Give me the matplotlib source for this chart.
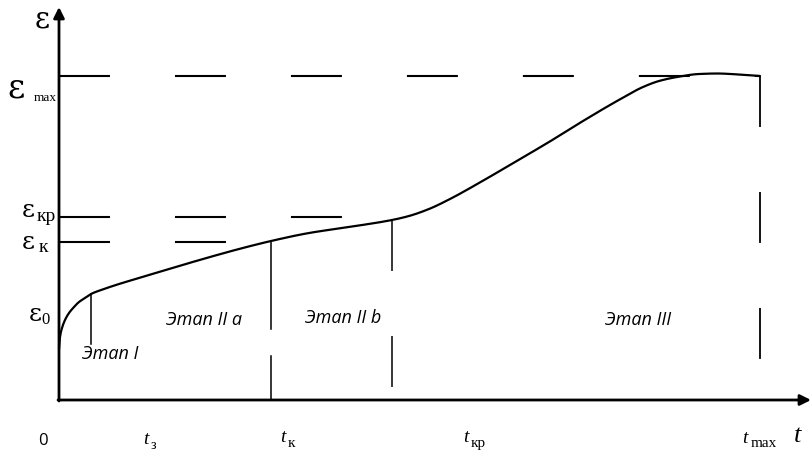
import numpy as np
import matplotlib
matplotlib.use("Agg")
import matplotlib.pyplot as plt

plt.rcParams['lines.scale_dashes'] = False

# Characteristic levels of strain and time (arbitrary units)
eps_levels = {"eps0": 106, "eps_k": 158, "eps_kr": 183, "eps_max": 324}
t_levels = {"t_z": 32, "t_k": 212, "t_kr": 333, "t_max": 701}

# Creep curve samples: time and strain
curve_t = [0, 1, 3, 6, 10, 15, 20, 26, 32, 45, 60, 80, 110, 144, 180, 212,
           250, 290, 333, 350, 370, 391, 420, 456, 490, 524, 558, 584, 600,
           618, 640, 658, 680, 701]
curve_eps = [51, 63, 72, 80, 87, 93, 98, 102, 106, 111, 116, 122, 131, 141,
             151, 159, 167, 173, 180, 184, 191, 201, 217, 238, 258, 279, 299,
             313, 319, 323, 326, 326.5, 325.5, 324]

# Stage labels
stage_labels = ["Этап I", "Этап II a", "Этап II b", "Этап III"]


def pchip(x, y, xs):
    """Shape-preserving piecewise cubic Hermite curve through (x, y)."""
    x = np.asarray(x, float)
    y = np.asarray(y, float)
    h = np.diff(x)
    d = np.diff(y) / h
    m = np.zeros_like(y)
    m[0], m[-1] = d[0], d[-1]
    for k in range(1, len(x) - 1):
        if d[k - 1] * d[k] > 0:
            w1 = 2 * h[k] + h[k - 1]
            w2 = h[k] + 2 * h[k - 1]
            m[k] = (w1 + w2) / (w1 / d[k - 1] + w2 / d[k])
    idx = np.clip(np.searchsorted(x, xs) - 1, 0, len(x) - 2)
    s = (xs - x[idx]) / h[idx]
    h00 = 2 * s**3 - 3 * s**2 + 1
    h10 = s**3 - 2 * s**2 + s
    h01 = -2 * s**3 + 3 * s**2
    h11 = s**3 - s**2
    return (h00 * y[idx] + h10 * h[idx] * m[idx]
            + h01 * y[idx + 1] + h11 * h[idx] * m[idx + 1])


fig = plt.figure(figsize=(8.12, 4.52), dpi=100)
ax = fig.add_axes([0, 0, 1, 1])
ax.set_xlim(-59, 753)
ax.set_ylim(-51, 401)
ax.axis("off")

K = "black"
dash = (36.7, 46.8)

# Axes with arrows
ax.annotate("", xy=(752, 0), xytext=(-1, 0),
            arrowprops=dict(arrowstyle="-|>", lw=2.0, color=K, mutation_scale=16,
                            shrinkA=0, shrinkB=0))
ax.annotate("", xy=(0, 393), xytext=(0, -1),
            arrowprops=dict(arrowstyle="-|>", lw=2.0, color=K, mutation_scale=16,
                            shrinkA=0, shrinkB=0))

# Creep curve
ts = np.linspace(curve_t[0], curve_t[-1], 1500)
ax.plot(ts, pchip(curve_t, curve_eps, ts), color=K, lw=1.6,
        solid_capstyle="round")

# Horizontal dashed reference levels
e_max, e_kr, e_k = eps_levels["eps_max"], eps_levels["eps_kr"], eps_levels["eps_k"]
tz, tk, tkr, tmax = t_levels["t_z"], t_levels["t_k"], t_levels["t_kr"], t_levels["t_max"]
ax.plot([0, tmax], [e_max, e_max], color=K, lw=1.5, dashes=dash)
ax.plot([0, tkr - 49], [e_kr, e_kr], color=K, lw=1.5, dashes=dash)
ax.plot([0, tk - 44], [e_k, e_k], color=K, lw=1.5, dashes=dash)

# Vertical stage boundaries
ci = lambda t: float(pchip(curve_t, curve_eps, np.array([t]))[0])
ax.plot([tz, tz], [ci(tz), 56], color=K, lw=1.1)
ax.plot([tk, tk], [ci(tk), 71], color=K, lw=1.1)
ax.plot([tk, tk], [44, 0], color=K, lw=1.1)
ax.plot([tkr, tkr], [ci(tkr), 0], color=K, lw=1.1, dashes=dash)
ax.plot([tmax, tmax], [e_max, 0], color=K, lw=1.3, dashes=dash)

# Stage labels
lab_font = dict(family="Open Sans", style="italic", fontsize=13, color=K,
                ha="center", va="center")
ax.text(51, 47, stage_labels[0], **lab_font)
ax.text(145, 81, stage_labels[1], **lab_font)
ax.text(284, 83, stage_labels[2], **lab_font)
ax.text(579, 81, stage_labels[3], **lab_font)

serif = "DejaVu Serif"
sub = "Liberation Serif"
# Strain axis labels
ax.text(-24, 373, "ε", family=serif, fontsize=21, color=K)
ax.text(-52, 304, "ε", family=serif, fontsize=24, color=K)
ax.text(-25, 300, "max", family=sub, fontsize=9.5, color=K)
ax.text(-37, 184, "ε", family=serif, fontsize=18, color=K)
ax.text(-22, 180, "кр", family=sub, fontsize=14, color=K)
ax.text(-37, 152, "ε", family=serif, fontsize=18, color=K)
ax.text(-20, 149, "к", family=sub, fontsize=14, color=K)
ax.text(-30, 80, "ε", family=serif, fontsize=18, color=K)
ax.text(-18, 77, "0", family=sub, fontsize=12, color=K)

# Time axis labels
ax.text(-16, -40, "0", family="Open Sans", fontsize=12, color=K,
        ha="center", va="center")
ts_font = dict(family=sub, style="italic", fontsize=14, color=K)
ax.text(84, -43, "t", **ts_font)
ax.text(92, -48, "з", family=sub, fontsize=10, color=K)
ax.text(221, -41, "t", **ts_font)
ax.text(229, -46, "к", family=sub, fontsize=11, color=K)
ax.text(404, -41, "t", **ts_font)
ax.text(412, -46, "кр", family=sub, fontsize=11, color=K)
ax.text(683, -42, "t", **ts_font)
ax.text(692, -46, "max", family=sub, fontsize=11, color=K)
ax.text(735, -41, "t", family=sub, style="italic", fontsize=19, color=K)

fig.savefig("out.png", dpi=100)
